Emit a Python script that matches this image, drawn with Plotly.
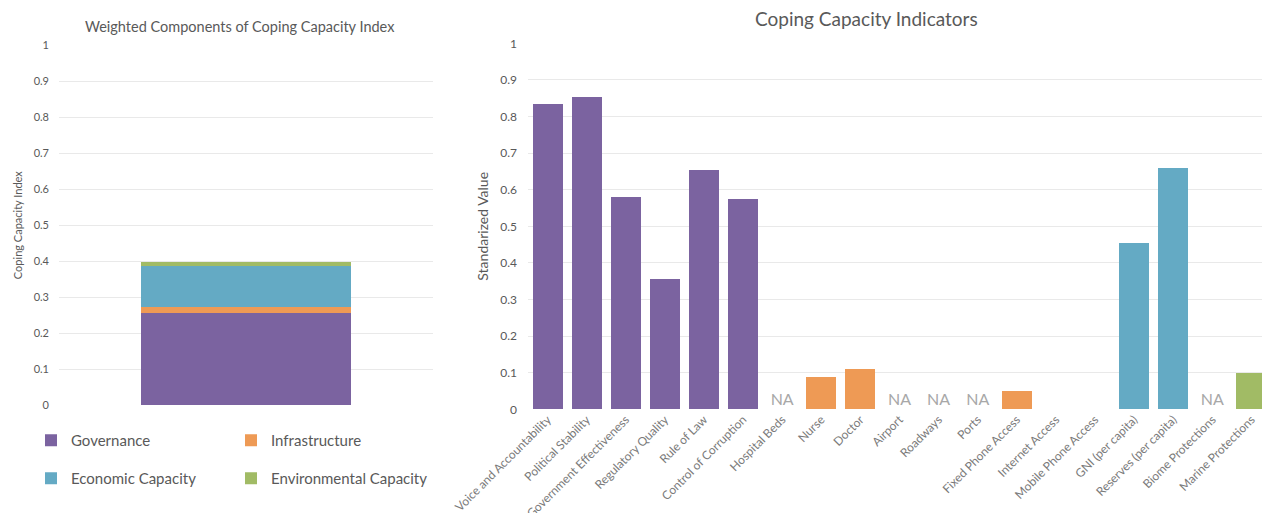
import plotly.graph_objects as go

# Weighted components (stacked bar, left)
components = ["Governance", "Infrastructure", "Economic Capacity", "Environmental Capacity"]
component_values = [0.257, 0.017, 0.113, 0.010]
component_colors = ["#7b63a0", "#ee9a55", "#64aac4", "#a1bb65"]

# Individual indicators (right)
indicators = [
    "Voice and Accountability", "Political Stability", "Government Effectiveness",
    "Regulatory Quality", "Rule of Law", "Control of Corruption", "Hospital Beds",
    "Nurse", "Doctor", "Airport", "Roadways", "Ports", "Fixed Phone Access",
    "Internet Access", "Mobile Phone Access", "GNI (per capita)",
    "Reserves (per capita)", "Biome Protections", "Marine Protections",
]
indicator_values = [
    0.835, 0.852, 0.579, 0.355, 0.653, 0.574, None,
    0.088, 0.110, None, None, None, 0.049,
    0, 0, 0.454,
    0.660, None, 0.098,
]
indicator_groups = [
    "Governance", "Governance", "Governance", "Governance", "Governance", "Governance",
    "Infrastructure", "Infrastructure", "Infrastructure", "Infrastructure",
    "Infrastructure", "Infrastructure", "Infrastructure", "Infrastructure",
    "Infrastructure", "Economic Capacity", "Economic Capacity",
    "Environmental Capacity", "Environmental Capacity",
]

W, H = 1262, 513
FONT = "Lato, 'Open Sans', sans-serif"
TEXT = "#595959"
GRID = "#e9e9e9"

color_of = dict(zip(components, component_colors))

fig = go.Figure()

# Left: stacked single bar
for i, (name, val, col) in enumerate(zip(components, component_values, component_colors)):
    fig.add_trace(go.Bar(
        x=[""], y=[val], name=name, marker=dict(color=col, line=dict(width=0)),
        width=0.56, xaxis="x", yaxis="y",
        legend="legend" if i < 2 else "legend2",
        hoverinfo="skip",
    ))

# Right: indicator bars
fig.add_trace(go.Bar(
    x=indicators, y=indicator_values,
    marker=dict(color=[color_of[g] for g in indicator_groups], line=dict(width=0)),
    width=0.765, xaxis="x2", yaxis="y2", showlegend=False, hoverinfo="skip",
))

# "NA" markers for indicators without data
na_x = [c for c, v in zip(indicators, indicator_values) if v is None]
fig.add_trace(go.Scatter(
    x=na_x, y=[0] * len(na_x), mode="text", text=["NA"] * len(na_x),
    textposition="top center", textfont=dict(color="#a8a8a8", size=16, family=FONT),
    xaxis="x2", yaxis="y2", showlegend=False, hoverinfo="skip",
))

def px_x(p):
    return p / W

def px_y(p):
    return 1 - p / H

tick_vals = [0, 0.1, 0.2, 0.3, 0.4, 0.5, 0.6, 0.7, 0.8, 0.9, 1]
tick_text = ["0", "0.1", "0.2", "0.3", "0.4", "0.5", "0.6", "0.7", "0.8", "0.9", "1"]

legend_style = dict(
    orientation="h", xanchor="left", yanchor="top", traceorder="normal",
    entrywidth=155, font=dict(size=15, color=TEXT), bgcolor="rgba(0,0,0,0)",
    itemclick=False, itemdoubleclick=False,
)

fig.update_layout(
    width=W, height=H,
    margin=dict(l=0, r=0, t=0, b=0),
    paper_bgcolor="white", plot_bgcolor="white",
    barmode="stack",
    font=dict(family=FONT, color=TEXT),
    xaxis=dict(
        domain=[px_x(59), px_x(433)], range=[-0.5, 0.5], showticklabels=False,
        showgrid=False, zeroline=False, showline=False, fixedrange=True,
    ),
    yaxis=dict(
        domain=[px_y(405.3), px_y(45)], range=[0, 1], anchor="x",
        tickvals=tick_vals, ticktext=tick_text, tickfont=dict(size=11, color=TEXT),
        gridcolor=GRID, gridwidth=1, zeroline=False, showline=False,
        ticks="", ticklabelstandoff=9, automargin=False,
        title=dict(text="Coping Capacity Index", font=dict(size=11, color=TEXT), standoff=8),
    ),
    xaxis2=dict(
        domain=[px_x(528), 1], range=[-0.5, 18.27], anchor="y2",
        tickangle=-45, tickfont=dict(size=12, color="#7a7a7a"),
        showgrid=False, zeroline=False, showline=False, ticks="", automargin=False,
    ),
    yaxis2=dict(
        domain=[px_y(409.3), px_y(43.3)], range=[0, 1], anchor="x2",
        tickvals=tick_vals, ticktext=tick_text, tickfont=dict(size=12, color=TEXT),
        gridcolor=GRID, gridwidth=1, zeroline=False, showline=False,
        ticks="", ticklabelstandoff=10, automargin=False,
        title=dict(text="Standarized Value", font=dict(size=14, color=TEXT), standoff=8),
    ),
    legend=dict(legend_style, x=px_x(31), y=px_y(424)),
    legend2=dict(legend_style, x=px_x(31), y=px_y(462)),
    annotations=[
        dict(text="Weighted Components of Coping Capacity Index", x=px_x(240), y=px_y(27),
             xref="paper", yref="paper", xanchor="center", yanchor="middle",
             showarrow=False, font=dict(size=14.5, color=TEXT, family=FONT)),
        dict(text="Coping Capacity Indicators", x=px_x(866), y=px_y(18),
             xref="paper", yref="paper", xanchor="center", yanchor="middle",
             showarrow=False, font=dict(size=19, color=TEXT, family=FONT)),
    ],
)

fig.write_html("out.html")
